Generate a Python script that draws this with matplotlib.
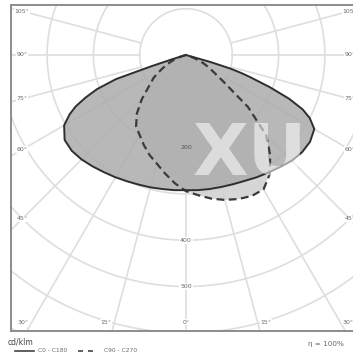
import numpy as np
import matplotlib
matplotlib.use("Agg")
import matplotlib.pyplot as plt
from matplotlib.lines import Line2D

# photometric data, gamma measured from nadir (deg), intensity in cd/klm
gamma = [0, 5, 10, 15, 20, 25, 30, 35, 40, 45, 50, 55, 60, 63, 65, 67, 69, 71, 72, 73, 74, 76, 80, 90]
c180 = [292, 293, 294, 296, 298, 301, 305, 309, 314, 319, 322, 320, 304, 282, 263, 236, 206, 160, 80, 30, 8, 0, 0, 0]
c0 = [292, 293, 294, 295, 297, 300, 305, 310, 316, 323, 327, 327, 320, 300, 278, 242, 194, 146, 125, 100, 55, 0, 0, 0]
c270 = [294, 278, 260, 243, 230, 215, 200, 188, 165, 135, 104, 85, 60, 48, 40, 32, 28, 18, 14, 10, 6, 0, 0, 0]
c90 = [296, 304, 315, 324, 331, 336, 335, 315, 283, 245, 175, 95, 62, 48, 40, 30, 20, 10, 6, 3, 0, 0, 0, 0]

rings = [100, 200, 300, 400, 500, 600, 700, 800]
ring_labels = [200, 400, 500]
spokes = [-105, -90, -75, -60, -45, -30, -15, 0, 15, 30, 45, 60, 75, 90, 105]
side_labels = [105, 90, 75, 60, 45]
bottom_labels = [30, 15, 0]

# layout (pixels)
W, H = 353, 358
CX, CY = 186, 55          # centre of the diagram
K = 0.463                 # px per cd/klm
FL, FT, FB, FW = 11, 5, 331, 350

GRID = "#dedede"
TXT = "#6a6a6a"


def curve(left, right):
    g = np.radians(gamma)
    left = np.asarray(left, float)
    right = np.asarray(right, float)
    xl, yl = -left * np.sin(g), left * np.cos(g)
    xr, yr = right * np.sin(g), right * np.cos(g)
    return np.concatenate([xl[::-1], xr[1:]]), np.concatenate([yl[::-1], yr[1:]])


fig = plt.figure(figsize=(W / 100, H / 100), dpi=100)
ax = fig.add_axes([FL / W, 1 - FB / H, FW / W, (FB - FT) / H])
ax.set_xlim((FL - CX) / K, (FL + FW - CX) / K)
ax.set_ylim((FB - CY) / K, (FT - CY) / K)
ax.set_xticks([])
ax.set_yticks([])
for sp in ax.spines.values():
    sp.set_color("#8c8c8c")
    sp.set_linewidth(1.4)

# grid
t = np.linspace(0, 2 * np.pi, 400)
for r in rings:
    ax.plot(r * np.cos(t), r * np.sin(t), color=GRID, lw=1.2, zorder=1)
for a in spokes:
    ar = np.radians(a)
    ax.plot([100 * np.sin(ar), 1200 * np.sin(ar)], [100 * np.cos(ar), 1200 * np.cos(ar)],
            color=GRID, lw=1.2, zorder=1)

# curves
xd, yd = curve(c270, c90)
xs, ys = curve(c180, c0)
ax.fill(xd, yd, color="#d2d2d2", alpha=0.9, lw=0, zorder=2)
ax.fill(xs, ys, color="#acacac", alpha=0.85, lw=0, zorder=3)
ax.plot(xd, yd, color="#3a3a3a", lw=1.6, dashes=(3.5, 2), zorder=4)
ax.plot(xs, ys, color="#2e2e2e", lw=1.4, zorder=5)

# watermark
ax.text((250 - CX) / K, (156 - CY) / K, "XU", color="white", alpha=0.55, fontsize=52,
        fontweight="bold", ha="center", va="center", zorder=6)

# labels
for r in ring_labels:
    bb = dict(boxstyle="square,pad=0.15", fc="white", ec="none") if r > max(c0) else None
    ax.text(0, r, str(r), fontsize=4.5, color=TXT if bb else "#555555", ha="center", va="center",
            bbox=bb, zorder=7)

xs_lab = (FL + 11 - CX) / K
for g in side_labels:
    y = -xs_lab * np.cos(np.radians(g)) / np.sin(np.radians(g))
    for sgn in (-1, 1):
        ax.text(sgn * -xs_lab, y, f"{g}°", fontsize=4.5, color=TXT, ha="center", va="center",
                bbox=dict(boxstyle="square,pad=0.15", fc="white", ec="none"), zorder=7)

yb = (322 - CY) / K
for g in bottom_labels:
    x = min(yb * np.tan(np.radians(g)) + (18 if g else 0), -xs_lab)
    for sgn in ((-1, 1) if g else (1,)):
        ax.text(sgn * x, yb, f"{g}°", fontsize=4.5, color=TXT, ha="center", va="center",
                bbox=dict(boxstyle="square,pad=0.15", fc="white", ec="none"), zorder=7)

# legend / units below the frame
fig.text(8 / W, 1 - 342 / H, "cd/klm", fontsize=5.5, color="#444444", va="center")
fig.add_artist(Line2D([15 / W, 34 / W], [1 - 351 / H] * 2, color="#444444", lw=1.2))
fig.text(38 / W, 1 - 351 / H, "C0 - C180", fontsize=4.3, color=TXT, va="center")
fig.add_artist(Line2D([78 / W, 98 / W], [1 - 351 / H] * 2, color="#444444", lw=1.2, dashes=(3, 3)))
fig.text(104 / W, 1 - 351 / H, "C90 - C270", fontsize=4.3, color=TXT, va="center")
fig.text(308 / W, 1 - 344 / H, "η = 100%", fontsize=5.2, color=TXT, va="center")

fig.savefig("out.png", dpi=100)
